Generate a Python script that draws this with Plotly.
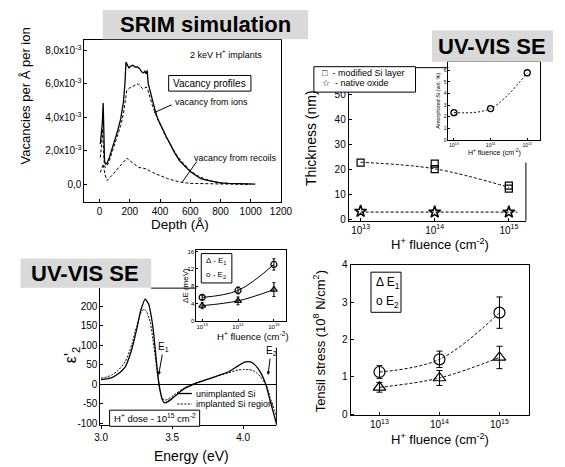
import plotly.graph_objects as go

W, H = 565, 467
FONT = "Liberation Sans, Arial, Helvetica, sans-serif"

def px(x):
    return x / W

def py(y):
    return 1 - y / H

# ---------------- data ----------------
# Panel 1: SRIM vacancy profiles (values in units of 1e-3 vacancies / Å / ion)
depth_total = [5, 12, 18, 24, 28, 33, 40, 50, 65, 80, 100, 120, 140, 158, 168, 175, 185, 195, 205, 220,
               235, 250, 265, 280, 292, 300, 308, 315, 322, 335, 350, 365, 385, 410, 441, 470, 495, 530,
               560, 600, 640, 670, 700, 750, 800, 850, 900, 950, 1000, 1030]
vac_total = [2.4, 2.9, 3.6, 4.85, 3.0, 1.4, 1.2, 1.25, 1.6, 2.0, 2.6, 3.2, 3.9, 4.9, 6.0, 7.3, 7.1, 6.95, 7.05, 7.1,
             7.0, 7.0, 6.9, 6.7, 6.65, 6.75, 6.6, 6.8, 6.0, 5.5, 5.0, 4.5, 3.9, 3.4, 2.85, 2.35, 1.9, 1.4,
             1.1, 0.75, 0.5, 0.33, 0.25, 0.15, 0.08, 0.05, 0.03, 0.02, 0.01, 0.0]
depth_ions = [5, 12, 19, 25, 32, 40, 50, 65, 80, 100, 120, 140, 158, 170, 180, 200, 220, 240, 255, 270,
              285, 300, 310, 320, 335, 350, 370, 400, 440, 480, 520, 560, 600, 650, 700, 750, 800, 900, 1000]
vac_ions = [1.6, 2.2, 3.3, 2.0, 1.1, 1.0, 1.1, 1.4, 1.8, 2.3, 2.9, 3.5, 4.2, 4.9, 5.6, 5.75, 5.85, 5.95, 6.0, 5.85,
            5.7, 5.75, 5.8, 5.6, 5.1, 4.7, 4.2, 3.6, 2.8, 2.2, 1.6, 1.2, 0.8, 0.5, 0.3, 0.15, 0.07, 0.02, 0.0]
depth_recoils = [5, 15, 25, 35, 50, 80, 110, 140, 165, 180, 200, 230, 260, 290, 310, 350, 400, 450, 500,
                 550, 600, 650, 700, 800, 900, 1000]
vac_recoils = [0.7, 0.9, 1.2, 0.6, 0.22, 0.5, 0.8, 1.1, 1.35, 1.55, 1.4, 1.2, 1.0, 0.95, 0.9, 0.7, 0.5, 0.33, 0.2,
               0.1, 0.05, 0.03, 0.02, 0.01, 0.0, 0.0]
vac_tickvals = [0, 2, 4, 6, 8]
vac_ticktext = ["0,0", "2,0x10<sup>-3</sup>", "4,0x10<sup>-3</sup>", "6,0x10<sup>-3</sup>", "8,0x10<sup>-3</sup>"]
depth_tickvals = [0, 200, 400, 600, 800, 1000, 1200]

# Panel 2: thickness vs fluence
fluence_tick = [1e13, 1e14, 1e15]
fluence_ticktext = ["10<sup>13</sup>", "10<sup>14</sup>", "10<sup>15</sup>"]
thick_tickvals = [0, 10, 20, 30, 40, 50]
mod_fluence = [1e13, 1e14, 1e14, 1e15, 1e15]
mod_thick = [22.8, 22.4, 20.2, 13.6, 12.4]
mod_fit_fluence = [1e13, 1e14, 1e15]
mod_fit_thick = [22.9, 20.3, 12.9]
ox_fluence = [1e13, 1e14, 1e15]
ox_thick = [3.3, 3.0, 3.0]
ox_fit_fluence = [1e13, 1.3e15]
ox_fit_thick = [3.0, 3.0]

# Inset of panel 2: amorphized Si
am_fluence = [1e13, 1e14, 1e15]
am_vol = [2.35, 2.7, 5.8]
am_tickvals = [0, 1, 2, 3, 4, 5, 6]

# Panel 3: epsilon'_2 spectra
E_unimpl = [3.00, 3.04, 3.08, 3.12, 3.17, 3.216, 3.25, 3.28, 3.31, 3.335, 3.355, 3.37, 3.385, 3.40, 3.415,
            3.43, 3.445, 3.47, 3.51, 3.58, 3.65, 3.78, 3.90, 3.966, 4.01, 4.04, 4.07, 4.10, 4.125, 4.16,
            4.19, 4.234]
eps_unimpl = [12, 14, 18, 27, 45, 90, 140, 190, 218, 205, 170, 130, 75, 22, -15,
              -38, -47, -44, -33, -12, 0, 17, 33, 48, 57, 58, 54, 43, 29, 0,
              -42, -100]
E_impl = [3.00, 3.04, 3.08, 3.12, 3.17, 3.216, 3.25, 3.28, 3.30, 3.32, 3.345, 3.365, 3.385, 3.40, 3.415,
          3.43, 3.445, 3.47, 3.51, 3.58, 3.65, 3.78, 3.90, 3.966, 4.01, 4.04, 4.07, 4.10, 4.125, 4.16,
          4.19, 4.234]
eps_impl = [16, 19, 25, 36, 58, 102, 148, 183, 192, 186, 160, 115, 60, 18, -15,
            -34, -40, -38, -28, -10, 2, 17, 30, 37, 38, 38, 35, 28, 18, 0,
            -33, -82]
energy_tickvals = [3.0, 3.5, 4.0]
energy_ticktext = ["3.0", "3.5", "4.0"]
eps_tickvals = [-100, -50, 0, 50, 100, 150, 200]
eps_ticktext = ["-100", "-50", "0", "50", "100", "150", "200"]

# Inset of panel 3: delta E
dE_fluence = [1e13, 1e14, 1e15]
dE_E2 = [5.4, 7.0, 13.0]
dE_E2_err = [0.5, 0.8, 1.3]
dE_E1 = [3.5, 4.6, 7.2]
dE_E1_err = [0.7, 0.9, 1.6]
dE_tickvals = [0, 4, 8, 12, 16]
dE_ticktext = ["0", "4", "8", "12", "16"]

# Panel 4: tensile stress
st_fluence = [1e13, 1e14, 1e15]
st_E2 = [1.13, 1.47, 2.72]
st_E2_err = [0.17, 0.22, 0.42]
st_E1 = [0.72, 0.97, 1.52]
st_E1_err = [0.13, 0.2, 0.3]
st_tickvals = [0, 1, 2, 3, 4]
st_ticktext = ["0", "1", "2", "3", "4"]

# ---------------- figure ----------------
fig = go.Figure()
BL = "black"

def line(width=1.0, dash=None):
    d = dict(color=BL, width=width)
    if dash:
        d["dash"] = dash
    return d

# Panel 1
fig.add_trace(go.Scatter(x=depth_recoils, y=vac_recoils, mode="lines", line=line(1, "3px,2px"), xaxis="x", yaxis="y"))
fig.add_trace(go.Scatter(x=depth_ions, y=vac_ions, mode="lines", line=line(1, "3px,2px"), xaxis="x", yaxis="y"))
fig.add_trace(go.Scatter(x=depth_total, y=vac_total, mode="lines", line=line(1.3), xaxis="x", yaxis="y"))

# Panel 2
fig.add_trace(go.Scatter(x=mod_fit_fluence, y=mod_fit_thick, mode="lines", line=dict(color=BL, width=1, dash="3px,2px", shape="spline"), xaxis="x2", yaxis="y2"))
fig.add_trace(go.Scatter(x=ox_fit_fluence, y=ox_fit_thick, mode="lines", line=line(1, "3px,2px"), xaxis="x2", yaxis="y2"))
fig.add_trace(go.Scatter(x=mod_fluence, y=mod_thick, mode="markers", marker=dict(symbol="square-open", size=7, color=BL, line=dict(width=1.2)), xaxis="x2", yaxis="y2"))
fig.add_trace(go.Scatter(x=ox_fluence, y=ox_thick, mode="markers", marker=dict(symbol="star-open", size=9, color=BL, line=dict(width=1.5)), xaxis="x2", yaxis="y2"))

# Inset 2
fig.add_trace(go.Scatter(x=am_fluence, y=am_vol, mode="lines+markers", line=dict(color=BL, width=1, dash="2px,2px", shape="spline"),
                         marker=dict(symbol="circle-open", size=6, color=BL, line=dict(width=1.3)), xaxis="x3", yaxis="y3"))

# Panel 3
fig.add_trace(go.Scatter(x=E_impl, y=eps_impl, mode="lines", line=dict(color=BL, width=1, dash="2px,1.5px", shape="spline", smoothing=0.6), xaxis="x4", yaxis="y4"))
fig.add_trace(go.Scatter(x=E_unimpl, y=eps_unimpl, mode="lines", line=dict(color=BL, width=1.3, shape="spline", smoothing=0.6), xaxis="x4", yaxis="y4"))

# Inset 3
fig.add_trace(go.Scatter(x=dE_fluence, y=dE_E2, mode="lines+markers", line=dict(color=BL, width=1, shape="spline"),
                         marker=dict(symbol="circle-open", size=6, color=BL, line=dict(width=1.2)),
                         error_y=dict(type="data", array=dE_E2_err, color=BL, thickness=1, width=1.5), xaxis="x5", yaxis="y5"))
fig.add_trace(go.Scatter(x=dE_fluence, y=dE_E1, mode="lines+markers", line=dict(color=BL, width=1, shape="spline"),
                         marker=dict(symbol="triangle-up-open", size=6, color=BL, line=dict(width=1.2)),
                         error_y=dict(type="data", array=dE_E1_err, color=BL, thickness=1, width=1.5), xaxis="x5", yaxis="y5"))

# Panel 4
fig.add_trace(go.Scatter(x=st_fluence, y=st_E2, mode="lines+markers", line=dict(color=BL, width=1, dash="3px,2px", shape="spline"),
                         marker=dict(symbol="circle-open", size=11, color=BL, line=dict(width=1.2)),
                         error_y=dict(type="data", array=st_E2_err, color=BL, thickness=1, width=3), xaxis="x6", yaxis="y6"))
fig.add_trace(go.Scatter(x=st_fluence, y=st_E1, mode="lines+markers", line=dict(color=BL, width=1, dash="3px,2px", shape="spline"),
                         marker=dict(symbol="triangle-up-open", size=11, color=BL, line=dict(width=1.2)),
                         error_y=dict(type="data", array=st_E1_err, color=BL, thickness=1, width=3), xaxis="x6", yaxis="y6"))


def axis(domain, rng, anchor, size=10, mirror=False, **kw):
    d = dict(domain=domain, range=rng, anchor=anchor, showline=True, linecolor=BL, linewidth=1,
             mirror=mirror, ticks="inside", ticklen=3, tickwidth=1, tickcolor=BL, showgrid=False,
             zeroline=False, tickfont=dict(size=size, family=FONT, color=BL), tickmode="array")
    d.update(kw)
    return d

layout = dict(
    width=W, height=H, margin=dict(l=0, r=0, t=0, b=0),
    paper_bgcolor="white", plot_bgcolor="rgba(0,0,0,0)", showlegend=False,
    font=dict(family=FONT, color=BL),
    xaxis=axis([px(81), px(284)], [-100, 1200], "y", mirror=True, tickvals=depth_tickvals,
               ticktext=[str(v) for v in depth_tickvals]),
    yaxis=axis([py(200), py(35)], [-1.05, 8.6], "x", mirror=True, tickvals=vac_tickvals, ticktext=vac_ticktext),
    xaxis2=axis([px(354), px(537)], [12.84, 15.23], "y2", type="log", tickvals=fluence_tick, ticktext=fluence_ticktext),
    yaxis2=axis([py(219.3), py(63)], [-0.4, 60.7], "x2", tickvals=thick_tickvals,
                ticktext=[str(v) for v in thick_tickvals]),
    xaxis3=axis([px(457), px(552)], [12.85, 15.36], "y3", size=5, mirror=True, type="log", ticklen=2,
                tickvals=fluence_tick, ticktext=fluence_ticktext),
    yaxis3=axis([py(137.3), py(57)], [-0.05, 6.75], "x3", size=5, mirror=True, ticklen=2, tickvals=am_tickvals,
                ticktext=[str(v) for v in am_tickvals]),
    xaxis4=axis([px(97.5), px(279.3)], [2.995, 4.234], "y4", ticks="outside", tickvals=energy_tickvals,
                ticktext=energy_ticktext),
    yaxis4=axis([py(428.5), py(288.3)], [-104.5, 246], "x4", tickvals=eps_tickvals, ticktext=eps_ticktext,
                zeroline=True, zerolinecolor=BL, zerolinewidth=1),
    xaxis5=axis([px(196.7), px(289.3)], [12.84, 15.34], "y5", size=6, mirror=True, type="log", ticklen=2,
                tickvals=fluence_tick, ticktext=fluence_ticktext),
    yaxis5=axis([py(321.7), py(249.5)], [0, 16.3], "x5", size=6, mirror=True, ticklen=2, tickvals=dE_tickvals,
                ticktext=dE_ticktext),
    xaxis6=axis([px(356), px(540.7)], [12.52, 15.5], "y6", mirror=True, type="log",
                tickvals=fluence_tick, ticktext=fluence_ticktext),
    yaxis6=axis([py(418.3), py(264.5)], [-0.03, 4.0], "x6", mirror=True, tickvals=st_tickvals,
                ticktext=st_ticktext),
)
fig.update_layout(**layout)

shapes = []

def rect(x0, y0, x1, y1, fill="white", lw=1, lc=BL):
    shapes.append(dict(type="rect", xref="paper", yref="paper", x0=px(x0), x1=px(x1), y0=py(y1), y1=py(y0),
                       fillcolor=fill, line=dict(color=lc, width=lw), layer="above"))

def seg(x0, y0, x1, y1, lw=1, dash=None):
    ln = dict(color=BL, width=lw)
    if dash:
        ln["dash"] = dash
    shapes.append(dict(type="line", xref="paper", yref="paper", x0=px(x0), x1=px(x1), y0=py(y0), y1=py(y1),
                       line=ln, layer="above"))

GRAY = "#d9d9d9"
# gray title boxes
rect(100, 4, 312, 34, fill=GRAY, lw=0)
rect(440, 25, 565, 57, fill=GRAY, lw=0)
rect(15, 258, 150, 288, fill=GRAY, lw=0)
# partial frame lines hidden by insets
seg(537, 160, 537, 219.3)
seg(423, 63, 457, 63)
seg(279.3, 349, 279.3, 428.5)
seg(150, 288.3, 196.7, 288.3)
# panel 1 boxes and pointers
rect(168, 71, 253, 87)
seg(171, 101, 153, 109)
seg(197, 159, 182, 180)
# panel 2 legend box
rect(318, 62, 423, 88)
# panel 3 legend samples and dose box
seg(177, 396, 192, 396, lw=1.3)
seg(177, 406.7, 192, 406.7, lw=1, dash="2px,1.5px")
rect(107, 413, 200, 429.5)
# inset 3 legend box
rect(201.7, 253, 233.3, 283)
# panel 4 legend box
rect(377, 272, 408, 313)

fig.update_layout(shapes=shapes)

ann = []

def text(x, y, s, size=10, angle=0, bold=False, xanchor="center", yanchor="middle"):
    if bold:
        s = "<b>" + s + "</b>"
    ann.append(dict(x=px(x), y=py(y), xref="paper", yref="paper", text=s, showarrow=False, textangle=angle,
                    font=dict(size=size, family=FONT, color=BL), xanchor=xanchor, yanchor=yanchor))

text(206, 19, "SRIM simulation", size=22, bold=True)
text(502, 41, "UV-VIS SE", size=22, bold=True)
text(82, 273, "UV-VIS SE", size=22, bold=True)

# panel 1 texts
text(20, 92, "Vacancies per Å per ion", size=13, angle=-90)
text(180, 223.5, "Depth (Å)", size=13.5)
text(227, 49, "2 keV H<sup>+</sup> implants", size=9)
text(210.5, 79, "Vacancy profiles", size=10)
text(172, 98, "vacancy from ions", size=9, xanchor="left")
text(192, 155, "vacancy from recoils", size=9, xanchor="left")

# panel 2 texts
text(315, 135, "Thickness (nm)", size=14, angle=-90)
text(448, 243, "H<sup>+</sup> fluence (cm<sup>-2</sup>)", size=13)
text(324, 68.5, "□  - modified Si layer", size=9, xanchor="left")
text(324, 78.5, "☆  - native oxide", size=9, xanchor="left")
text(446, 97, "Amorphized Si (vol. %)", size=5.5, angle=-90)
text(505, 150, "H<sup>+</sup> fluence (cm<sup>-2</sup>)", size=7)

# panel 3 texts
text(68, 357, "ε'<sub>2</sub>", size=16, angle=-90)
text(192, 460, "Energy (eV)", size=14)
text(194, 396, "unimplanted Si", size=9, xanchor="left")
text(194, 406.7, "implanted Si region", size=9, xanchor="left")
text(153.5, 421.5, "H<sup>+</sup> dose - 10<sup>15</sup> cm<sup>-2</sup>", size=9.5)
text(186, 286, "ΔE (meV)", size=8, angle=-90)
text(255, 337.5, "H<sup>+</sup> fluence (cm<sup>-2</sup>)", size=9.5)
text(205, 261, "Δ - E<sub>1</sub>", size=8, xanchor="left")
text(205, 275, "o - E<sub>2</sub>", size=8, xanchor="left")

# E1/E2 arrows
ann.append(dict(x=3.405, y=24, xref="x4", yref="y4", text="E<sub>1</sub>", showarrow=True, arrowhead=2,
                arrowsize=0.7, arrowwidth=1, arrowcolor=BL, ax=5, ay=-28, font=dict(size=10, family=FONT, color=BL)))
ann.append(dict(x=4.175, y=24, xref="x4", yref="y4", text="E<sub>2</sub>", showarrow=True, arrowhead=2,
                arrowsize=0.7, arrowwidth=1, arrowcolor=BL, ax=3, ay=-24, font=dict(size=10, family=FONT, color=BL)))

# panel 4 texts
text(323, 343, "Tensil stress (10<sup>8</sup> N/cm<sup>2</sup>)", size=13, angle=-90)
text(448, 442, "H<sup>+</sup> fluence (cm<sup>-2</sup>)", size=13)
text(380, 283, "Δ E<sub>1</sub>", size=12, xanchor="left")
text(380, 302, "o E<sub>2</sub>", size=12, xanchor="left")

fig.update_layout(annotations=ann)
fig.write_html("out.html")
